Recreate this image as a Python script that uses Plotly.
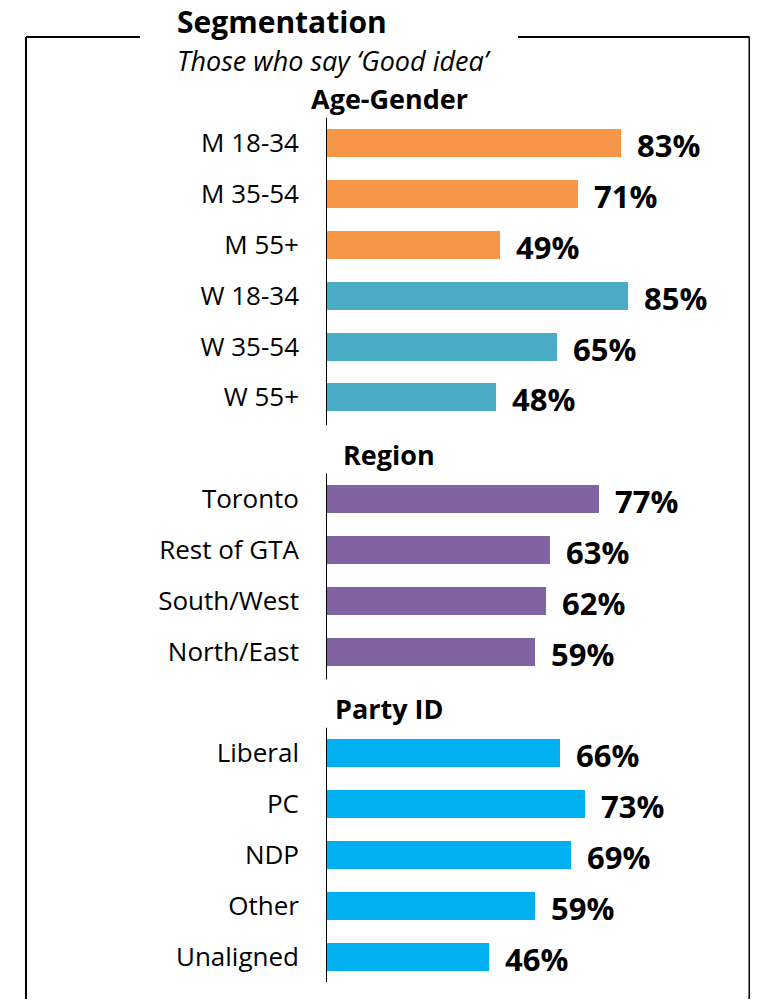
# =========================
# Dependencies
# =========================

import plotly.graph_objects as go

# =========================
# Data
# =========================

age_labels = ['M 18-34', 'M 35-54', 'M 55+', 'W 18-34', 'W 35-54', 'W 55+']
age_values = [83, 71, 49, 85, 65, 48]
age_colors = ['#F79646'] * 3 + ['#4BACC6'] * 3

region_labels = ['Toronto', 'Rest of GTA', 'South/West', 'North/East']
region_values = [77, 63, 62, 59]

party_labels = ['Liberal', 'PC', 'NDP', 'Other', 'Unaligned']
party_values = [66, 73, 69, 59, 46]

group_titles = ['Age-Gender', 'Region', 'Party ID']

title_text = 'Segmentation'
subtitle_text = 'Those who say \u2018Good idea\u2019'

# =========================
# Layout helpers
# =========================

# page body has an 8px margin, so the figure is shifted by OFF
OFF = 8
W, H = 742, 991
ML, MR, MT, MB = 318, 69, 64, 17
PW, PH = W - ML - MR, H - MT - MB

def px_x(px):
    # window pixel -> paper x
    return (px - OFF - ML) / PW

def px_y(py):
    # window pixel -> paper y
    return (H - MB - (py - OFF)) / PH

FONT = 'Open Sans'

# -------------------------

groups = [
    (age_labels, age_values, age_colors),
    (region_labels, region_values, ['#8064A2'] * len(region_values)),
    (party_labels, party_values, ['#00B0F0'] * len(party_values)),
]

fig = go.Figure()
tickvals, ticktext = [], []
annotations, shapes = [], []

pos = 0
for (labels, values, colors), gtitle in zip(groups, group_titles):
    ys = list(range(pos, pos + len(labels)))
    fig.add_trace(go.Bar(
        x=values, y=ys, orientation='h',
        marker=dict(color=colors, line=dict(width=0)),
        width=0.55, hoverinfo='skip'
    ))
    tickvals += ys
    ticktext += labels

    # value labels
    for v, yy in zip(values, ys):
        annotations.append(dict(
            x=v, y=yy, xref='x', yref='y', text=f'<b>{v}%</b>',
            showarrow=False, xanchor='left', yanchor='middle', xshift=14, yshift=-2,
            font=dict(family=FONT, size=31, color='black')
        ))

    # group header
    annotations.append(dict(
        x=px_x(389), y=pos - 0.88, xref='paper', yref='y', text=f'<b>{gtitle}</b>',
        showarrow=False, xanchor='center', yanchor='middle',
        font=dict(family=FONT, size=27, color='black')
    ))

    # axis segment
    shapes.append(dict(
        type='line', xref='x', yref='y', x0=0, x1=0,
        y0=ys[0] - 0.5, y1=ys[-1] + 0.55,
        line=dict(color='black', width=2)
    ))
    pos += len(labels) + 1

last = pos - 2

# outer frame with a gap for the title
frame = [
    (26, 1010, 26, 37),
    (26, 37, 140, 37),
    (518, 37, 749.5, 37),
    (749.5, 37, 749.5, 1010),
]
for x0, y0, x1, y1 in frame:
    shapes.append(dict(
        type='line', xref='paper', yref='paper',
        x0=px_x(x0), y0=px_y(y0), x1=px_x(x1), y1=px_y(y1),
        line=dict(color='black', width=2)
    ))

annotations.append(dict(
    x=px_x(175), y=px_y(22), xref='paper', yref='paper', text=f'<b>{title_text}</b>',
    showarrow=False, xanchor='left', yanchor='middle',
    font=dict(family=FONT, size=30, color='black')
))
annotations.append(dict(
    x=px_x(175), y=px_y(60), xref='paper', yref='paper', text=f'<i>{subtitle_text}</i>',
    showarrow=False, xanchor='left', yanchor='middle',
    font=dict(family=FONT, size=27, color='black')
))

fig.update_layout(
    width=W, height=H,
    margin=dict(l=ML, r=MR, t=MT, b=MB, pad=0, autoexpand=False),
    showlegend=False,
    paper_bgcolor='white',
    plot_bgcolor='white',
    bargap=0,
    xaxis=dict(range=[0, 100], visible=False, fixedrange=True),
    yaxis=dict(
        range=[last + 0.5, -1.4],
        tickvals=tickvals, ticktext=ticktext,
        showgrid=False, zeroline=False, showline=False, ticks='',
        ticklabelstandoff=26, automargin=False,
        tickfont=dict(family=FONT, size=26, color='black'),
    ),
    annotations=annotations,
    shapes=shapes,
)

fig.write_html('out.html')
